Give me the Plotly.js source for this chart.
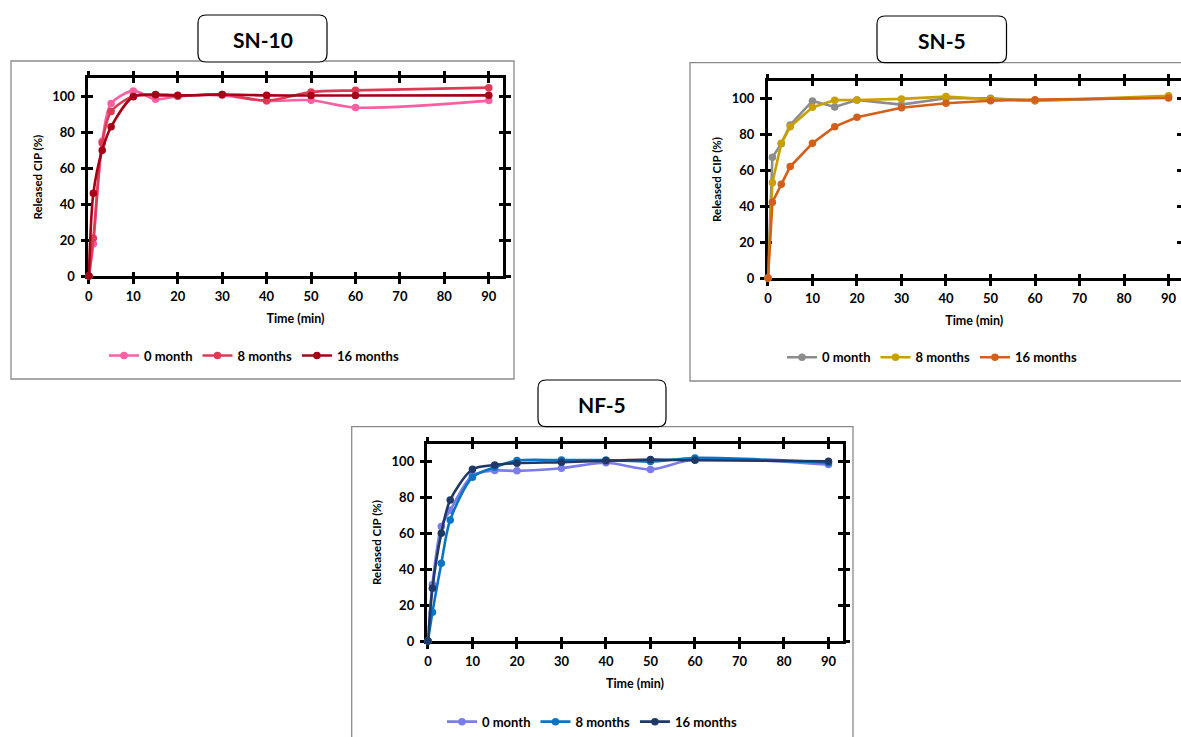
<!DOCTYPE html>
<html><head><meta charset="utf-8">
<script src="https://cdn.plot.ly/plotly-3.0.1.min.js"></script>
<style>html,body{margin:0;padding:0;background:#fff}#chart{width:1181px;height:737px}</style>
</head><body><div id="chart"></div>
<script>
// ---- data ----
const time = [0, 1, 3, 5, 10, 15, 20, 30, 40, 50, 60, 90];
const seriesNames = ['0 month', '8 months', '16 months'];
const panelTitles = ['SN-10', 'SN-5', 'NF-5'];
const xTicks = [0, 10, 20, 30, 40, 50, 60, 70, 80, 90];
const yTicks = [0, 20, 40, 60, 80, 100];

const sn10_0m  = [0, 18, 75, 96, 103, 98.3, 100, 100.5, 97.4, 97.8, 93.7, 97.6];
const sn10_8m  = [0, 21, 74, 91.5, 100, 100.5, 100, 101, 97.6, 102.4, 103.3, 104.8];
const sn10_16m = [0, 46, 70, 83, 99.8, 101, 100.5, 101, 100.5, 100.4, 100.4, 100.5];

const sn5_0m  = [0, 67.4, 75, 85.5, 98.9, 95.5, 99.4, 96.8, 100.4, 100.4, 99, 101];
const sn5_8m  = [0, 53.2, 75.2, 84.5, 95.3, 99.3, 99.4, 100, 101.3, 99.8, 99, 101.8];
const sn5_16m = [0, 42.3, 52.3, 62.2, 75.2, 84.5, 89.8, 95.1, 97.6, 99, 99.6, 100.5];

const nf5_0m  = [0, 31.5, 64, 73, 92.5, 95.2, 95, 96.5, 99.5, 95.8, 101.5, 98.5];
const nf5_8m  = [0, 16, 43.4, 67.6, 91.4, 97, 100.8, 101, 101, 100.2, 102.2, 99.6];
const nf5_16m = [0, 29.4, 60.2, 78.8, 95.9, 98.3, 99.3, 99.8, 100.6, 101.3, 100.9, 100.4];

// ---- styling / layout helpers ----
const W = 1181, H = 737;
const px = p => p / W;
const py = p => 1 - p / H;
const FONT = 'Lato, "Open Sans", sans-serif';

const panels = [
  {data: [sn10_0m, sn10_8m, sn10_16m], colors: ['#FF5FA2', '#DC3A55', '#A50016'], shape: 'spline',
   xd: [88, 503], yd: [78.3, 276], xr: [-0.2, 93.2], mirrorY: true,
   frame: [11, 61, 514, 379], tbox: [198, 15, 327, 62],
   legendX: 104, legendY: 355.5},
  {data: [sn5_0m, sn5_8m, sn5_16m], colors: ['#8C8C8C', '#C9A000', '#D2601A'], shape: 'linear',
   xd: [767.5, 1181], yd: [81, 278], xr: [-0.1, 92.8], mirrorY: false,
   frame: [690, 62.7, 1190, 381], tbox: [877, 16, 1006.5, 62.7],
   legendX: 782, legendY: 357.3},
  {data: [nf5_0m, nf5_8m, nf5_16m], colors: ['#7B7BEA', '#0A74C4', '#1F3868'], shape: 'spline',
   xd: [427.3, 842.7], yd: [444, 641], xr: [-0.15, 93.2], mirrorY: true,
   frame: [351.7, 426.7, 853, 760], tbox: [538, 380, 666, 426.7],
   legendX: 442, legendY: 721.7}
];

const traces = [];
const layout = {
  width: W, height: H,
  margin: {l: 0, r: 0, t: 0, b: 0},
  paper_bgcolor: '#fff', plot_bgcolor: 'rgba(0,0,0,0)',
  font: {family: FONT, color: '#000'},
  showlegend: true,
  shapes: [], annotations: []
};

function rounded(x0, y0, x1, y1, r) {
  const X0 = px(x0), X1 = px(x1), Y0 = py(y0), Y1 = py(y1);
  const rx = r / W, ry = r / H;
  return `M ${X0 + rx},${Y0} L ${X1 - rx},${Y0} Q ${X1},${Y0} ${X1},${Y0 - ry} ` +
         `L ${X1},${Y1 + ry} Q ${X1},${Y1} ${X1 - rx},${Y1} L ${X0 + rx},${Y1} ` +
         `Q ${X0},${Y1} ${X0},${Y1 + ry} L ${X0},${Y0 - ry} Q ${X0},${Y0} ${X0 + rx},${Y0} Z`;
}

panels.forEach((p, i) => {
  const mi = 2 * i + 1, oi = 2 * i + 2;
  const xm = mi === 1 ? 'x' : 'x' + mi, ym = mi === 1 ? 'y' : 'y' + mi;
  const xo = 'x' + oi, yo = 'y' + oi;
  const xk = mi === 1 ? 'xaxis' : 'xaxis' + mi, yk = mi === 1 ? 'yaxis' : 'yaxis' + mi;
  const legKey = i === 0 ? 'legend' : 'legend' + (i + 1);

  p.data.forEach((vals, s) => {
    traces.push({
      type: 'scatter', mode: 'lines+markers', x: time, y: vals,
      name: seriesNames[s], xaxis: xm, yaxis: ym, legend: legKey,
      line: {color: p.colors[s], width: 2.6, shape: p.shape, smoothing: 0.8},
      marker: {color: p.colors[s], size: 7.5},
      cliponaxis: false, hoverinfo: 'x+y+name'
    });
  });
  // empty trace so the overlay subplot (inside half of the crossing ticks) is built
  traces.push({type: 'scatter', mode: 'markers', x: [], y: [], xaxis: xo, yaxis: yo,
               showlegend: false, hoverinfo: 'skip'});

  const common = {showgrid: false, zeroline: false, tickcolor: '#000', tickwidth: 2.5, ticklen: 4.5,
                  layer: 'below traces'};
  layout[xk] = Object.assign({}, common, {
    domain: [px(p.xd[0]), px(p.xd[1])], range: p.xr, anchor: ym,
    tickmode: 'array', tickvals: xTicks, ticktext: xTicks.map(String),
    ticks: 'outside', showline: true, linecolor: '#000', linewidth: 3, mirror: 'ticks',
    ticklabelstandoff: 2,
    tickfont: {family: FONT, size: 13, weight: 700, color: '#000'},
    title: {text: 'Time (min)', font: {family: FONT, size: 12.5, weight: 700, color: '#000'}, standoff: 12}
  });
  layout[yk] = Object.assign({}, common, {
    domain: [py(p.yd[1]), py(p.yd[0])], range: [0, 110], anchor: xm,
    tickmode: 'array', tickvals: yTicks, ticktext: yTicks.map(String),
    ticks: 'outside', showline: true, linecolor: '#000', linewidth: 3, mirror: p.mirrorY ? 'ticks' : false,
    ticklabelstandoff: 3,
    tickfont: {family: FONT, size: 13, weight: 700, color: '#000'},
    title: {text: 'Released CIP (%)', font: {family: FONT, size: 11.5, weight: 700, color: '#000'}, standoff: 8}
  });
  layout['xaxis' + oi] = Object.assign({}, common, {
    overlaying: xm, anchor: yo, range: p.xr, tickmode: 'array', tickvals: xTicks,
    ticks: 'inside', showline: false, mirror: 'ticks', showticklabels: false
  });
  layout['yaxis' + oi] = Object.assign({}, common, {
    overlaying: ym, anchor: xo, range: [0, 110], tickmode: 'array', tickvals: yTicks,
    ticks: 'inside', showline: false, mirror: 'ticks', showticklabels: false
  });

  layout[legKey] = {
    orientation: 'h', x: px(p.legendX), y: py(p.legendY), xanchor: 'left', yanchor: 'middle',
    bgcolor: 'rgba(0,0,0,0)', borderwidth: 0, itemwidth: 30,
    font: {family: FONT, size: 13, weight: 700, color: '#000'}, traceorder: 'normal'
  };

  layout.shapes.push({type: 'rect', xref: 'paper', yref: 'paper', layer: 'below',
    x0: px(p.frame[0]), x1: px(p.frame[2]), y0: py(p.frame[3]), y1: py(p.frame[1]),
    line: {color: '#8A8A8A', width: 1.3}, fillcolor: 'rgba(0,0,0,0)'});
  layout.shapes.push({type: 'path', xref: 'paper', yref: 'paper', layer: 'above',
    path: rounded(p.tbox[0], p.tbox[1], p.tbox[2], p.tbox[3], 8),
    line: {color: '#000', width: 1.2}, fillcolor: '#fff'});
  layout.annotations.push({xref: 'paper', yref: 'paper', showarrow: false,
    x: px((p.tbox[0] + p.tbox[2]) / 2), y: py((p.tbox[1] + p.tbox[3]) / 2 + 1),
    xanchor: 'center', yanchor: 'middle', text: panelTitles[i],
    font: {family: FONT, size: 21, weight: 700, color: '#000'}});
});

Plotly.newPlot('chart', traces, layout, {displayModeBar: false, responsive: false});
</script></body></html>
